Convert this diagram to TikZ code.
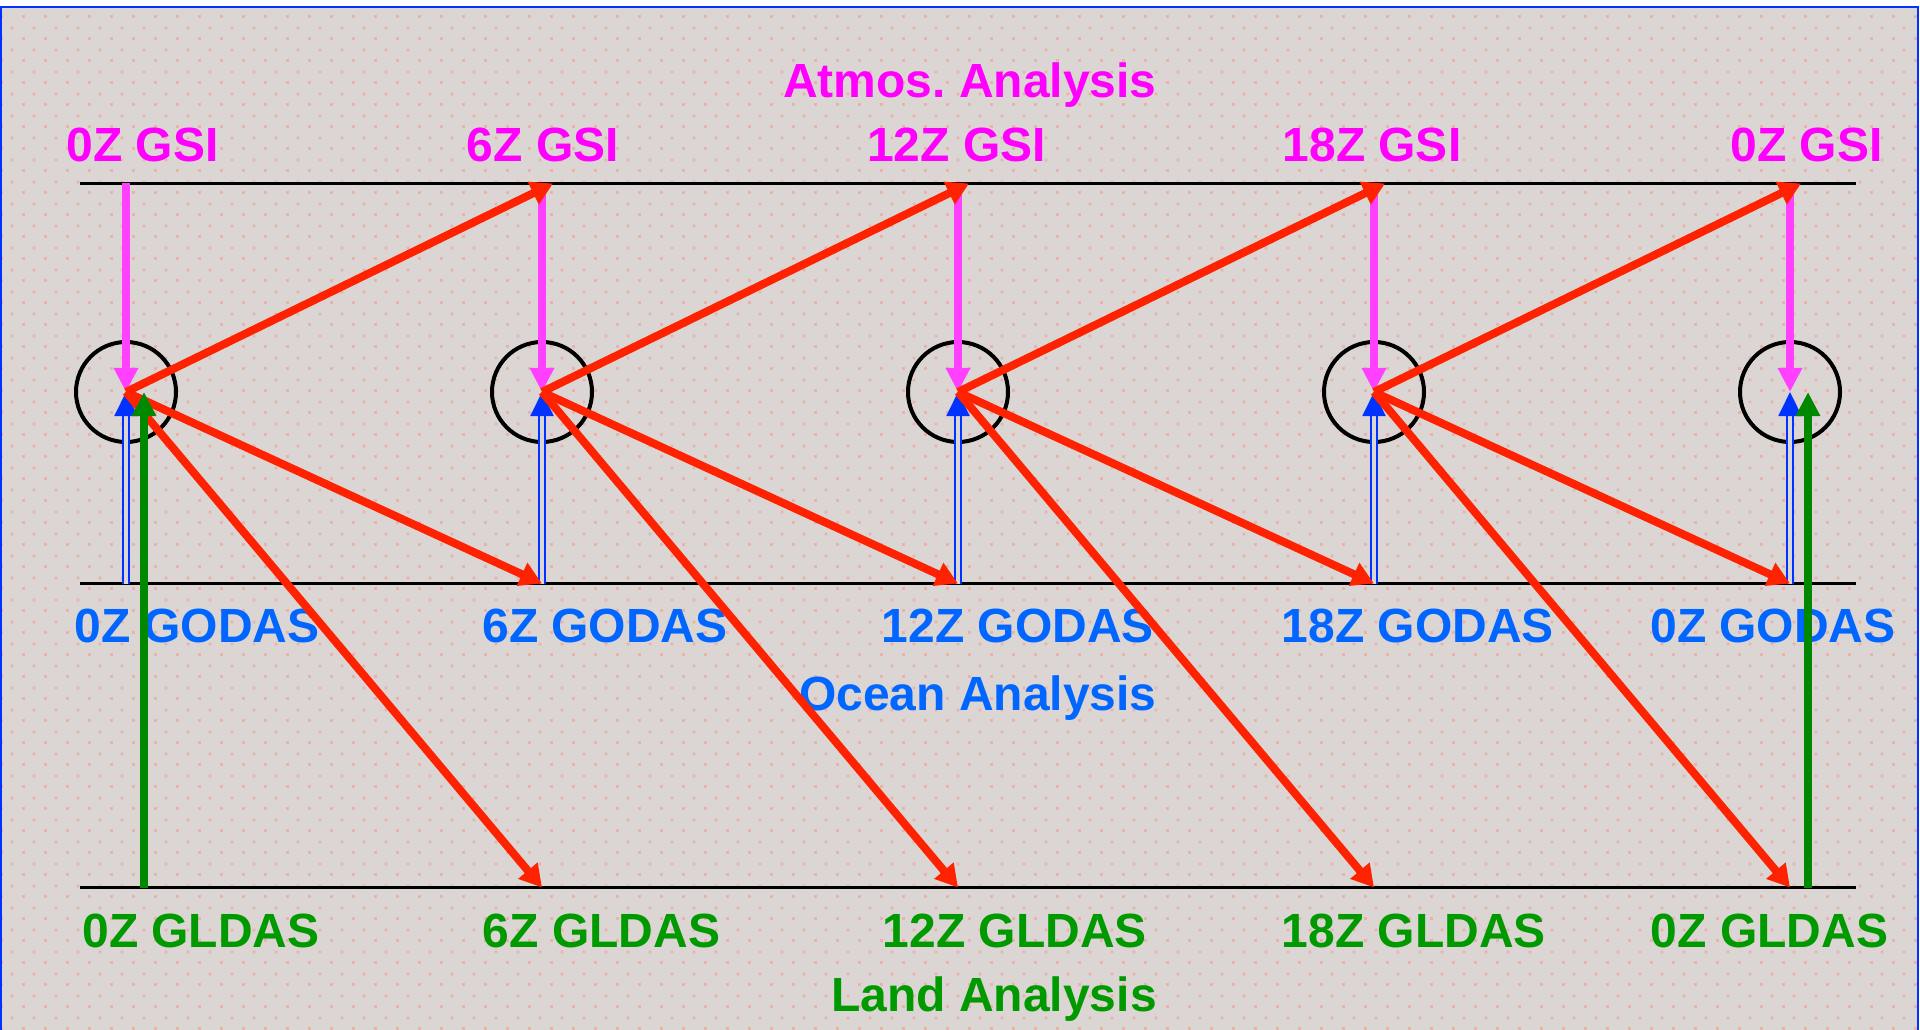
\documentclass[tikz,border=0pt]{standalone}
\usepackage{fontspec}
\setmainfont{Liberation Sans}
\frenchspacing
\usetikzlibrary{arrows.meta,patterns.meta}
\definecolor{bgc}{HTML}{DBD6D3}
\definecolor{dotpink}{HTML}{E9B3AC}
\definecolor{framec}{HTML}{0033FF}
\definecolor{magtxt}{HTML}{FF00FF}
\definecolor{magarr}{HTML}{FF40FF}
\definecolor{bluetxt}{HTML}{0066FF}
\definecolor{bluearr}{HTML}{0033FF}
\definecolor{greentxt}{HTML}{009900}
\definecolor{greenarr}{HTML}{008800}
\definecolor{redarr}{HTML}{FF2200}
\pgfdeclarepattern{
  name=pinkdots,
  type=colored,
  bottom left={\pgfpointorigin},
  top right={\pgfpoint{16.5pt}{16.5pt}},
  tile size={\pgfpoint{16.5pt}{16.5pt}},
  code={
    \pgfsetfillcolor{dotpink}
    \pgfpathrectangle{\pgfpoint{0pt}{0pt}}{\pgfpoint{2.2pt}{2.2pt}}
    \pgfpathrectangle{\pgfpoint{8.25pt}{8.25pt}}{\pgfpoint{2.2pt}{2.2pt}}
    \pgfusepath{fill}
  }
}
\begin{document}
\begin{tikzpicture}[x=0.75pt,y=-0.75pt,
  lbl/.style={inner sep=0pt,anchor=base,font=\fontsize{36}{40}\selectfont\bfseries},
  ttl/.style={lbl,anchor=base east},
  hline/.style={draw=black,line width=1.8pt},
  ring/.style={draw=black,circle,line width=3pt,minimum size=75pt,inner sep=0pt},
  magarrow/.style={draw=magarr,line width=6pt,-{Triangle[length=18pt,width=17.25pt]}},
  bluearrow/.style={draw=bluearr,line width=1.5pt,double=bgc,double distance=3pt,-{Triangle[length=18pt,width=17.25pt]}},
  redarrow/.style={draw=redarr,line width=6pt,-{Triangle[length=16.5pt,width=18pt]}},
  greenarrow/.style={draw=greenarr,line width=6pt,-{Triangle[length=18pt,width=17.25pt]}}
]
\useasboundingbox (0,0) rectangle (1920,1030);
\fill[white] (0,0) rectangle (1920,1030);
\fill[bgc] (1,7) rectangle (1918,1030);
\fill[pattern=pinkdots] (1,7) rectangle (1918,1030);
\draw[framec,line width=1.5pt] (1,1040) -- (1,7) -- (1918,7) -- (1918,1040);

% horizontal lines
\coordinate (tl) at (80,183.5);  \coordinate (tr) at (1856,183.5);
\coordinate (ml) at (80,583.5);  \coordinate (mr) at (1856,583.5);
\coordinate (bl) at (80,887.5);  \coordinate (br) at (1856,887.5);
\draw[hline] (tl) -- (tr);
\draw[hline] (ml) -- (mr);
\draw[hline] (bl) -- (br);

% rings and anchor points
\foreach \i/\x in {0/126,1/542,2/958,3/1374,4/1790} {
  \node[ring] (c\i) at (\x,392) {};
  \coordinate (g\i) at (\x,183.5);
  \coordinate (gt\i) at (\x+11,183.5);
  \coordinate (o\i) at (\x,583.5);
  \coordinate (l\i) at (\x,887.5);
}
\coordinate (gr0) at (144,392);  \coordinate (gb0) at (144,887.5);
\coordinate (gr4) at (1808,392); \coordinate (gb4) at (1808,887.5);

% titles
\node[ttl,text=magtxt] (atm) at (1157,98) {Atmos. Analysis};
\node[ttl,text=bluetxt] (oce) at (1157,710) {Ocean Analysis};
\node[ttl,text=greentxt] (lnd) at (1157,1011) {Land Analysis};

% GSI labels
\node[lbl,text=magtxt] (s0) at (142.5,162) {0Z GSI};
\node[lbl,text=magtxt] (s1) at (543,162) {6Z GSI};
\node[lbl,text=magtxt] (s2) at (956.5,162) {12Z GSI};
\node[lbl,text=magtxt] (s3) at (1372,162) {18Z GSI};
\node[lbl,text=magtxt] (s4) at (1806.5,162) {0Z GSI};

% GODAS labels
\node[lbl,text=bluetxt] (d0) at (197,642) {0Z GODAS};
\node[lbl,text=bluetxt] (d1) at (605,642) {6Z GODAS};
\node[lbl,text=bluetxt] (d2) at (1018,642) {12Z GODAS};
\node[lbl,text=bluetxt] (d3) at (1418,642) {18Z GODAS};
\node[lbl,text=bluetxt] (d4) at (1773,642) {0Z GODAS};

% GLDAS labels
\node[lbl,text=greentxt] (n0) at (201,947) {0Z GLDAS};
\node[lbl,text=greentxt] (n1) at (601.5,947) {6Z GLDAS};
\node[lbl,text=greentxt] (n2) at (1015,947) {12Z GLDAS};
\node[lbl,text=greentxt] (n3) at (1414,947) {18Z GLDAS};
\node[lbl,text=greentxt] (n4) at (1769.5,947) {0Z GLDAS};

% magenta and blue arrows
\foreach \i in {0,...,4} {
  \draw[magarrow] (g\i) -- (c\i.center);
  \draw[bluearrow] (o\i) -- (c\i.center);
}

% red arrows
\foreach \i/\j in {0/1,1/2,2/3,3/4} {
  \draw[redarrow] (c\i.center) -- (gt\j);
  \draw[redarrow] (c\i.center) -- (o\j);
  \draw[redarrow] (c\i.center) -- (l\j);
}

% green arrows
\draw[greenarrow] (gb0) -- (gr0);
\draw[greenarrow] (gb4) -- (gr4);
\end{tikzpicture}
\end{document}
